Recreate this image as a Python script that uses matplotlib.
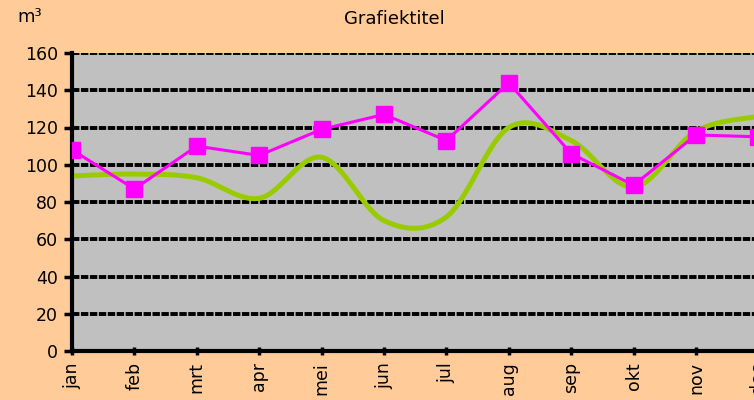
import numpy as np
import matplotlib.pyplot as plt

maanden = ['jan', 'feb', 'mrt', 'apr', 'mei', 'jun', 'jul', 'aug', 'sep', 'okt', 'nov', 'dec']
verbruik = [108, 87, 110, 105, 119, 127, 113, 144, 106, 89, 116, 115]
gemiddeld = [94, 95, 93, 82, 104, 70, 72, 120, 113, 88, 118, 126]


def smooth(y, n=30):
    # Excel-achtige gladde lijn (Catmull-Rom via Bezier)
    y = np.asarray(y, float)
    x = np.arange(len(y), dtype=float)
    px, py = [], []
    for i in range(len(y) - 1):
        i0, i3 = max(i - 1, 0), min(i + 2, len(y) - 1)
        c1x = x[i] + (x[i + 1] - x[i0]) / 6
        c1y = y[i] + (y[i + 1] - y[i0]) / 6
        c2x = x[i + 1] - (x[i3] - x[i]) / 6
        c2y = y[i + 1] - (y[i3] - y[i]) / 6
        t = np.linspace(0, 1, n)
        b = [(1 - t) ** 3, 3 * (1 - t) ** 2 * t, 3 * (1 - t) * t ** 2, t ** 3]
        px.append(b[0] * x[i] + b[1] * c1x + b[2] * c2x + b[3] * x[i + 1])
        py.append(b[0] * y[i] + b[1] * c1y + b[2] * c2y + b[3] * y[i + 1])
    return np.concatenate(px), np.concatenate(py)


fig = plt.figure(figsize=(7.54, 4.0), dpi=100, facecolor='#FFCC99')
ax = fig.add_axes([72 / 754, 49 / 400, 686.4 / 754, 298 / 400])
ax.set_facecolor('#C0C0C0')

for v in range(20, 161, 20):
    ax.axhline(v, color='black', lw=2.8, linestyle=(0, (1.9, 0.4)), zorder=1)

sx, sy = smooth(gemiddeld)
ax.plot(sx, sy, color='#99CC00', lw=3.6, zorder=2, solid_capstyle='round')
ax.plot(range(len(verbruik)), verbruik, color='#FF00FF', lw=2.2, marker='s',
        markersize=11, zorder=3)

ax.set_xlim(0, 11)
ax.set_ylim(0, 160)
ax.set_yticks(range(0, 161, 20))
ax.set_xticks(range(len(maanden)))
ax.set_xticklabels(maanden, rotation=90, fontsize=12.5)
ax.tick_params(axis='y', labelsize=12.5, length=6, width=2.5, pad=4)
ax.tick_params(axis='x', length=6, width=2.5, direction='inout', pad=5)

for s in ['top', 'right']:
    ax.spines[s].set_visible(False)
ax.spines['left'].set_linewidth(3)
ax.spines['bottom'].set_linewidth(3)

fig.text(394 / 754, 1 - 19 / 400, 'Grafiektitel', ha='center', va='center', fontsize=13)
fig.text(30 / 754, 1 - 17 / 400, 'm³', ha='center', va='center', fontsize=13)

fig.savefig('out.png', dpi=100, facecolor=fig.get_facecolor())
